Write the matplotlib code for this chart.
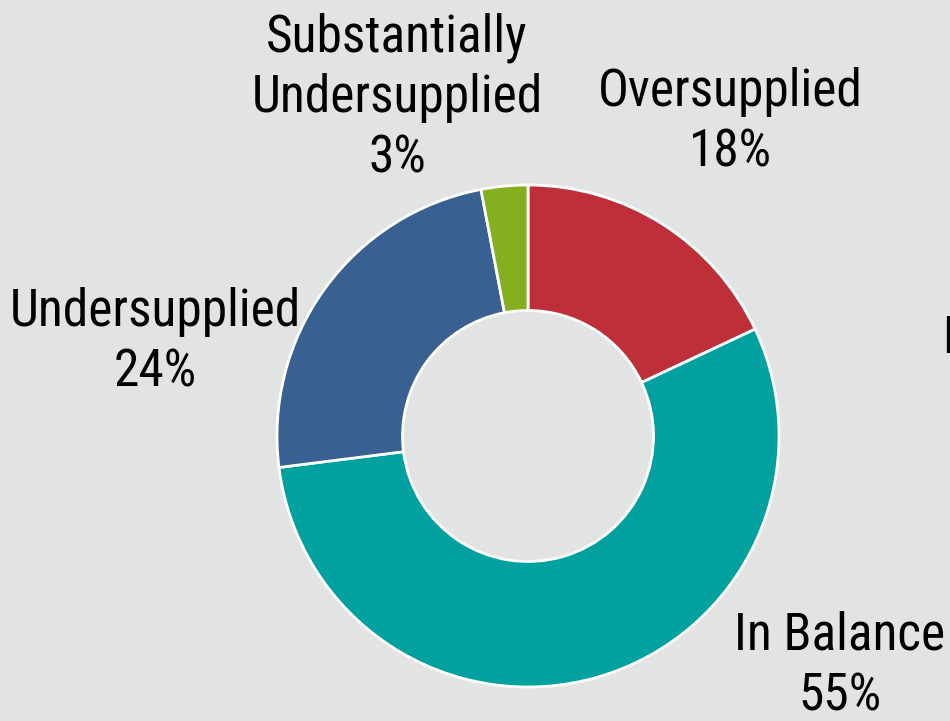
import matplotlib
matplotlib.use("Agg")
import matplotlib.pyplot as plt
from matplotlib import font_manager

categories = ["Oversupplied", "In Balance", "Undersupplied", "Substantially\nUndersupplied"]
values = [18, 55, 24, 3]
colors = ["#BF2F39", "#00A19E", "#386090", "#84AF1E"]

names = {f.name for f in font_manager.fontManager.ttflist}
fam = "Liberation Sans"
for cand in ["Liberation Sans Narrow", "Arial Narrow", "Roboto Condensed", "Archivo Narrow"]:
    if cand in names:
        fam = cand
        break
plt.rcParams['font.family'] = [fam, 'DejaVu Sans']

W, H = 950, 721
bg = "#E2E4E3"
fig = plt.figure(figsize=(W/100, H/100), dpi=100, facecolor=bg)
ax = fig.add_axes([0, 0, 1, 1])
ax.set_facecolor(bg)

cx, cy, R = 528, H - 436, 251
ax.pie(values, colors=colors, startangle=90, counterclock=False,
       center=(cx, cy), radius=R, frame=True,
       wedgeprops=dict(width=R*0.5, edgecolor='white', linewidth=2))
ax.set_xlim(0, W)
ax.set_ylim(0, H)
ax.set_aspect('equal')
ax.axis('off')

labels = [f"{c}\n{v}%" for c, v in zip(categories, values)]
pos = [(730, 122), (840, 666), (155, 342), (397, 98)]
for lab, (x, y) in zip(labels, pos):
    ax.text(x, H - y, lab, ha='center', va='center', multialignment='center',
            fontsize=37, color='black', linespacing=1.27)

ax.text(942, H - 353, "N", ha='left', va='baseline', fontsize=37, color='black')

fig.savefig("out.png", dpi=100, facecolor=bg)
